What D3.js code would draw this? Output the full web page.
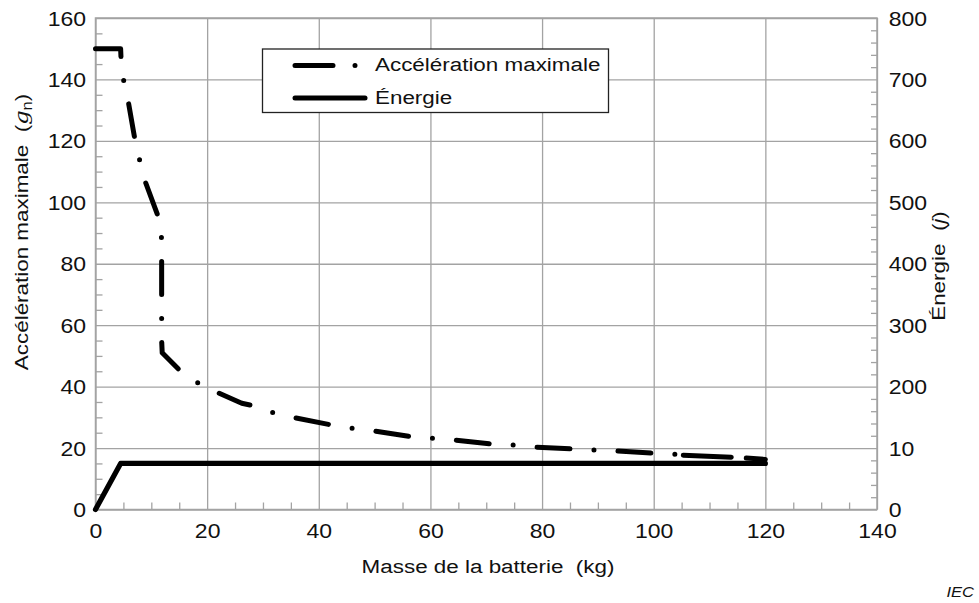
<!DOCTYPE html>
<html>
<head>
<meta charset="utf-8">
<script src="https://cdn.jsdelivr.net/npm/d3@7/dist/d3.min.js"></script>
<style>
  body { margin: 0; background: #fff; }
  text { font-family: "Liberation Sans", Arial, sans-serif; fill: #111; white-space: pre; }
  .grid line { stroke: #a3a3a3; stroke-width: 1.3; }
  .tick text { font-size: 19.5px; }
</style>
</head>
<body>
<div id="chart"></div>
<script>
// masse de la batterie (kg) -> acceleration maximale (gn)
let accelX = [0, 4.5, 4.6, 5.1, 5.9, 7.1, 8.0, 8.9, 11.4, 11.85, 11.85, 11.85, 11.85, 11.85, 11.95, 15.3, 18.3, 21.7, 26.2, 28.3, 31.8, 35.4, 42.3, 46.0, 49.7, 56.6, 60.4, 64.2, 71.1, 74.8, 78.7, 85.5, 89.4, 93.0, 100.2, 104.0, 105.3, 114.5, 120.0];
let accelY = [150, 150, 145.8, 139, 132.5, 120, 113, 106.8, 94.5, 88, 81.2, 68.8, 61.7, 55, 51, 44.9, 41.3, 38.2, 34.6, 33.8, 31.5, 30.0, 27.5, 26.4, 25.6, 23.7, 23.2, 22.6, 21.3, 21.0, 20.3, 19.7, 19.4, 19.1, 18.3, 18.0, 17.7, 17.0, 16.3];
let tailStart = 36; // the last two dashes are drawn on their own

// energie (j), axe de droite
let energyX = [0, 4.5, 120];
let energyY = [0, 75, 75];

let xTicks = [0, 20, 40, 60, 80, 100, 120, 140];
let yTicks = [0, 20, 40, 60, 80, 100, 120, 140, 160];
let rightTicks = [0, 100, 200, 300, 400, 500, 600, 700, 800];
let rightTickLabels = ["0", "10", "200", "300", "400", "500", "600", "700", "800"];

let width = 979, height = 603;
let plotLeft = 95.5, plotRight = 877, plotTop = 18, plotBottom = 509.5;
let stretch = 1.18; // the lettering of the original is a bit wide

window.addEventListener("load", () => {
  let svg = d3.select("#chart").append("svg")
              .attr("width", width)
              .attr("height", height);

  let xScale = d3.scaleLinear().domain([0, 140]).range([plotLeft, plotRight]);
  let yScale = d3.scaleLinear().domain([0, 160]).range([plotBottom, plotTop]);
  let yRight = d3.scaleLinear().domain([0, 800]).range([plotBottom, plotTop]);

  // grid lines
  svg.append("g")
     .attr("class", "grid")
     .attr("transform", "translate(0," + plotBottom + ")")
     .call(d3.axisBottom(xScale).tickValues(xTicks).tickFormat("").tickSize(-(plotBottom - plotTop)).tickSizeOuter(0))
     .select(".domain").remove();
  svg.append("g")
     .attr("class", "grid")
     .attr("transform", "translate(" + plotLeft + ",0)")
     .call(d3.axisLeft(yScale).tickValues(yTicks).tickFormat("").tickSize(-(plotRight - plotLeft)).tickSizeOuter(0))
     .select(".domain").remove();

  // minor ticks (inward)
  let minorX = d3.range(0, 141, 5).filter(v => v % 20 != 0);
  let minorY = d3.range(0, 161, 5).filter(v => v % 20 != 0);
  let minorR = d3.range(0, 801, 20).filter(v => v % 100 != 0);
  let tickStyle = sel => sel.selectAll(".tick line").attr("stroke", "#a3a3a3").attr("stroke-width", 1.3);

  svg.append("g")
     .attr("transform", "translate(0," + plotBottom + ")")
     .call(d3.axisTop(xScale).tickValues(minorX).tickFormat("").tickSize(7).tickSizeOuter(0))
     .call(tickStyle)
     .select(".domain").remove();
  svg.append("g")
     .attr("transform", "translate(" + plotLeft + ",0)")
     .call(d3.axisRight(yScale).tickValues(minorY).tickFormat("").tickSize(7).tickSizeOuter(0))
     .call(tickStyle)
     .select(".domain").remove();
  svg.append("g")
     .attr("transform", "translate(" + plotRight + ",0)")
     .call(d3.axisLeft(yRight).tickValues(minorR).tickFormat("").tickSize(6).tickSizeOuter(0))
     .call(tickStyle)
     .select(".domain").remove();

  // frame
  svg.append("rect")
     .attr("x", plotLeft).attr("y", plotTop)
     .attr("width", plotRight - plotLeft).attr("height", plotBottom - plotTop)
     .attr("fill", "none").attr("stroke", "#a3a3a3").attr("stroke-width", 1.5);

  // tick labels
  let xAxis = svg.append("g")
     .attr("transform", "translate(0," + plotBottom + ")")
     .call(d3.axisBottom(xScale).tickValues(xTicks).tickSize(0).tickPadding(10));
  xAxis.select(".domain").remove();
  xAxis.selectAll("text").attr("dy", "0.95em").attr("transform", "scale(" + stretch + ",1)");

  let yAxis = svg.append("g")
     .attr("transform", "translate(" + plotLeft + ",0)")
     .call(d3.axisLeft(yScale).tickValues(yTicks).tickSize(0).tickPadding(8));
  yAxis.select(".domain").remove();
  yAxis.selectAll("text").attr("dy", "0.36em").attr("transform", "scale(" + stretch + ",1)");

  let rAxis = svg.append("g")
     .attr("transform", "translate(" + plotRight + ",0)")
     .call(d3.axisRight(yRight).tickValues(rightTicks).tickSize(0).tickPadding(10)
       .tickFormat(d => rightTickLabels[rightTicks.indexOf(d)]));
  rAxis.select(".domain").remove();
  rAxis.selectAll("text").attr("dy", "0.36em").attr("transform", "scale(" + stretch + ",1)");

  // curves
  let accelLine = d3.line()
    .x(i => xScale(accelX[i]))
    .y(i => yScale(accelY[i]));
  let idx = d3.range(accelX.length);
  svg.append("path")
     .datum(idx.slice(0, tailStart))
     .attr("d", accelLine)
     .attr("fill", "none")
     .attr("stroke", "#000")
     .attr("stroke-width", 5)
     .attr("stroke-linecap", "round")
     .attr("stroke-linejoin", "round")
     .attr("stroke-dasharray", "33 24 0 24");
  svg.append("path")
     .datum(idx.slice(tailStart))
     .attr("d", accelLine)
     .attr("fill", "none")
     .attr("stroke", "#000")
     .attr("stroke-width", 5)
     .attr("stroke-linecap", "round")
     .attr("stroke-linejoin", "round")
     .attr("stroke-dasharray", "48 15 30");

  let energyLine = d3.line()
    .x((d, i) => xScale(energyX[i]))
    .y((d, i) => yRight(energyY[i]));
  svg.append("path")
     .datum(energyY)
     .attr("d", energyLine)
     .attr("fill", "none")
     .attr("stroke", "#000")
     .attr("stroke-width", 5.2)
     .attr("stroke-linecap", "round")
     .attr("stroke-linejoin", "round");

  // legend
  let legend = svg.append("g");
  legend.append("rect")
        .attr("x", 262.5).attr("y", 49)
        .attr("width", 346).attr("height", 63.5)
        .attr("fill", "#fff").attr("stroke", "#222").attr("stroke-width", 1.3);
  legend.append("path")
        .attr("d", "M295,65.5H333M355,65.5H355.01")
        .attr("stroke", "#000").attr("stroke-width", 5).attr("stroke-linecap", "round");
  legend.append("path")
        .attr("d", "M295,98H365")
        .attr("stroke", "#000").attr("stroke-width", 5).attr("stroke-linecap", "round");
  legend.append("text").attr("transform", "translate(375,71) scale(" + stretch + ",1)")
        .style("font-size", "19px").text("Accélération maximale");
  legend.append("text").attr("transform", "translate(375,103.5) scale(" + stretch + ",1)")
        .style("font-size", "19px").text("Énergie");

  // axis titles
  svg.append("text")
     .attr("transform", "translate(488,573) scale(" + stretch + ",1)")
     .attr("text-anchor", "middle")
     .style("font-size", "19px")
     .text("Masse de la batterie  (kg)");

  let yt = svg.append("text")
     .attr("transform", "translate(28,232) rotate(-90) scale(" + stretch + ",1)")
     .attr("text-anchor", "middle")
     .style("font-size", "19px");
  yt.append("tspan").text("Accélération maximale  (");
  yt.append("tspan").style("font-family", "'DejaVu Serif', serif").style("font-style", "italic").text("g");
  yt.append("tspan").attr("dy", 4).style("font-size", "14px").text("n");
  yt.append("tspan").attr("dy", -4).text(")");

  let rt = svg.append("text")
     .attr("transform", "translate(945,266) rotate(-90) scale(" + stretch + ",1)")
     .attr("text-anchor", "middle")
     .style("font-size", "19px");
  rt.append("tspan").text("Énergie  (");
  rt.append("tspan").style("font-style", "italic").text("j");
  rt.append("tspan").text(")");

  svg.append("text")
     .attr("transform", "translate(974,597) scale(" + stretch + ",1)")
     .attr("text-anchor", "end")
     .style("font-size", "14px")
     .style("font-style", "italic")
     .text("IEC");
});
</script>
</body>
</html>
